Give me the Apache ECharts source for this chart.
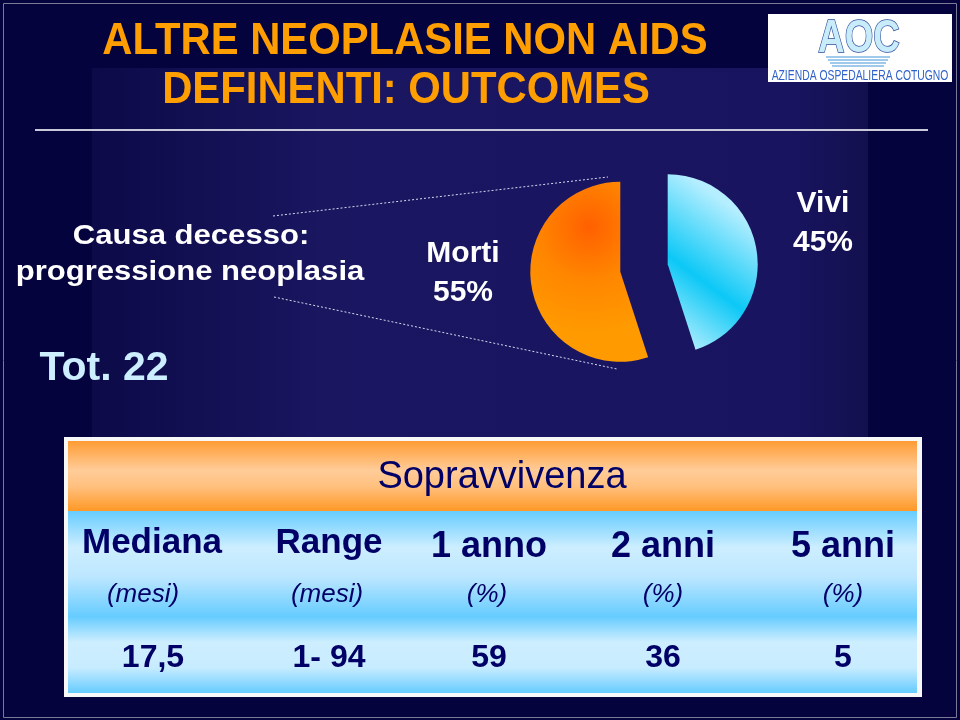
<!DOCTYPE html>
<html>
<head>
<meta charset="utf-8">
<title>Altre neoplasie non AIDS definenti: outcomes</title>
<script src="https://cdn.jsdelivr.net/npm/echarts@6/dist/echarts.min.js"></script>
<style>
  html, body { margin: 0; padding: 0; background: #04033d; }
  #main { width: 960px; height: 720px; }
</style>
</head>
<body>
<div id="main"></div>
<script>
// dati
const outcomeNames = ['Vivi', 'Morti'];
const outcomePct = [45, 55];
const totalPatients = 22;
const survivalHeaders = ['Mediana', 'Range', '1 anno', '2 anni', '5 anni'];
const survivalUnits = ['(mesi)', '(mesi)', '(%)', '(%)', '(%)'];
const survivalValues = ['17,5', '1- 94', '59', '36', '5'];

const FONT = '"Liberation Sans", Arial, Helvetica, sans-serif';
const NAVY = '#000066';

// posizioni colonne tabella
const headX = [152, 329, 489, 663, 843];
const unitX = [143, 327, 487, 663, 843];
const valX = [153, 329, 489, 663, 843];
// posizione etichette torta (Vivi, Morti)
const pieLabelPos = [[823, 204], [463, 254]];

function txt(x, y, text, size, color, extra) {
  const e = extra || {};
  return {
    type: 'text',
    x: x,
    y: y,
    z: 100,
    scaleX: e.scaleX || 1,
    style: {
      x: 0,
      y: 0,
      text: text,
      fill: color,
      fontSize: size,
      fontFamily: FONT,
      fontWeight: e.weight || 'normal',
      fontStyle: e.style || 'normal',
      align: e.align || 'center',
      verticalAlign: 'middle'
    }
  };
}

const pieColors = [
  {
    type: 'linear', x: 0, y: 1, x2: 1, y2: 0.3,
    colorStops: [
      { offset: 0, color: '#D4F6FF' },
      { offset: 0.5, color: '#0CC8F6' },
      { offset: 1, color: '#B4EEFF' }
    ]
  },
  {
    type: 'radial', x: 0.5, y: 0.25, r: 0.9,
    colorStops: [
      { offset: 0, color: '#FF6000' },
      { offset: 0.5, color: '#FF8600' },
      { offset: 1, color: '#FF9A00' }
    ]
  }
];

const pieData = outcomeNames.map((n, i) => ({
  name: n,
  value: outcomePct[i],
  selected: true,
  itemStyle: { color: pieColors[i] }
}));

const elements = [];

// sfondo
elements.push({
  type: 'rect', z: 0,
  shape: { x: 92, y: 68, width: 776, height: 372 },
  style: {
    fill: {
      type: 'linear', x: 0, y: 0, x2: 1, y2: 0,
      colorStops: [
        { offset: 0, color: '#0c0a48' },
        { offset: 0.3, color: '#1a1660' },
        { offset: 0.9, color: '#181460' },
        { offset: 1, color: '#13104f' }
      ]
    }
  }
});
elements.push({
  type: 'rect', z: 1,
  shape: { x: 3.5, y: 3.5, width: 953, height: 714 },
  style: { fill: null, stroke: '#7a7a96', lineWidth: 1 }
});

// logo
elements.push({
  type: 'rect', z: 1,
  shape: { x: 768, y: 14, width: 184, height: 68 },
  style: { fill: '#ffffff' }
});
[57, 60, 63, 66].forEach((yy, i) => {
  elements.push({
    type: 'line', z: 2,
    shape: { x1: 826 + i * 2, y1: yy, x2: 890 - i * 2, y2: yy },
    style: { stroke: '#7fb8e6', lineWidth: 1.5 }
  });
});
elements.push({
  type: 'text', x: 859, y: 39, z: 3, scaleX: 0.8,
  style: {
    x: 0, y: 0, text: 'AOC', fontSize: 46, fontWeight: 'bold', fontFamily: FONT,
    fill: '#c9ecfb', stroke: '#2a4a9a', lineWidth: 1.5,
    align: 'center', verticalAlign: 'middle',
    shadowColor: 'rgba(30,60,140,0.6)', shadowOffsetX: 3, shadowOffsetY: 3
  }
});
elements.push(txt(860, 76, 'AZIENDA OSPEDALIERA COTUGNO', 14, '#2f62c8', { scaleX: 0.74 }));

// titolo
elements.push(txt(405, 42, 'ALTRE NEOPLASIE NON AIDS', 44, '#FF9E00', { weight: 'bold', scaleX: 0.95 }));
elements.push(txt(406, 91, 'DEFINENTI: OUTCOMES', 44, '#FF9E00', { weight: 'bold', scaleX: 0.95 }));
elements.push({
  type: 'line', z: 5,
  shape: { x1: 35, y1: 130, x2: 928, y2: 130 },
  style: { stroke: '#c8c8d8', lineWidth: 2 }
});

// testo a sinistra
elements.push(txt(191, 237, 'Causa decesso:', 27, '#ffffff', { weight: 'bold', scaleX: 1.15 }));
elements.push(txt(190, 273, 'progressione neoplasia', 27, '#ffffff', { weight: 'bold', scaleX: 1.15 }));
elements.push(txt(104, 369, 'Tot. ' + totalPatients, 41, '#cdeeff', { weight: 'bold' }));

// etichette torta
outcomeNames.forEach((n, i) => {
  const p = pieLabelPos[i];
  elements.push(txt(p[0], p[1], n, 30, '#ffffff', { weight: 'bold' }));
  elements.push(txt(p[0], p[1] + 39, outcomePct[i] + '%', 30, '#ffffff', { weight: 'bold' }));
});

// linee tratteggiate
elements.push({
  type: 'line', z: 5,
  shape: { x1: 273, y1: 216, x2: 608, y2: 177 },
  style: { stroke: '#d8d8f0', lineWidth: 1, lineDash: [2, 2] }
});
elements.push({
  type: 'line', z: 5,
  shape: { x1: 274, y1: 297, x2: 617, y2: 369 },
  style: { stroke: '#d8d8f0', lineWidth: 1, lineDash: [2, 2] }
});

// tabella
elements.push({
  type: 'rect', z: 1,
  shape: { x: 64, y: 437, width: 858, height: 260 },
  style: { fill: '#f8f8f8' }
});
elements.push({
  type: 'rect', z: 2,
  shape: { x: 68, y: 441, width: 849, height: 70 },
  style: {
    fill: {
      type: 'linear', x: 0, y: 0, x2: 0, y2: 1,
      colorStops: [
        { offset: 0, color: '#FF9C33' },
        { offset: 0.42, color: '#FFCC99' },
        { offset: 0.65, color: '#FFC07E' },
        { offset: 1, color: '#FF9826' }
      ]
    }
  }
});
elements.push({
  type: 'rect', z: 2,
  shape: { x: 68, y: 511, width: 849, height: 182 },
  style: {
    fill: {
      type: 'linear', x: 0, y: 0, x2: 0, y2: 1,
      colorStops: [
        { offset: 0, color: '#66CCFF' },
        { offset: 0.2, color: '#CDEEFF' },
        { offset: 0.36, color: '#BDE7FF' },
        { offset: 0.58, color: '#66CCFF' },
        { offset: 0.72, color: '#CDEEFF' },
        { offset: 0.86, color: '#C8ECFF' },
        { offset: 1, color: '#66CCFF' }
      ]
    }
  }
});
elements.push(txt(502, 478, 'Sopravvivenza', 38, NAVY));
survivalHeaders.forEach((h, i) => {
  elements.push(txt(headX[i], i < 2 ? 543 : 547, h, i < 2 ? 35 : 36, NAVY, { weight: 'bold' }));
});
survivalUnits.forEach((u, i) => {
  elements.push(txt(unitX[i], 595, u, 26, NAVY, { style: 'italic' }));
});
survivalValues.forEach((v, i) => {
  elements.push(txt(valX[i], 658, v, 32, NAVY, { weight: 'bold' }));
});

const option = {
  backgroundColor: '#04033d',
  animation: false,
  graphic: { elements: elements },
  series: [
    {
      type: 'pie',
      z: 10,
      center: [644, 268],
      radius: 90,
      startAngle: 90,
      clockwise: true,
      selectedMode: 'multiple',
      selectedOffset: 24,
      emphasis: { disabled: true },
      label: { show: false },
      labelLine: { show: false },
      data: pieData
    }
  ]
};

const myChart = echarts.init(document.getElementById('main'));
myChart.setOption(option);
</script>
</body>
</html>
